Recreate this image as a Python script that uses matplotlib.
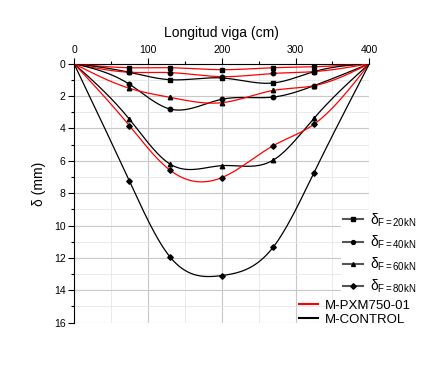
import numpy as np
import matplotlib
matplotlib.use("Agg")
import matplotlib.pyplot as plt
from matplotlib.lines import Line2D
from matplotlib.ticker import MultipleLocator

plt.rcParams["font.family"] = ["Liberation Sans", "DejaVu Sans"]
plt.rcParams["mathtext.fontset"] = "custom"
plt.rcParams["mathtext.rm"] = "Liberation Sans"
plt.rcParams["mathtext.it"] = "Liberation Sans"

# posiciones de medida (cm)
x_pos = [0, 75, 130, 200, 270, 325, 400]

# M-CONTROL (negro)
ctrl_20 = [0, 0.53, 0.99, 0.88, 1.19, 0.49, 0]
ctrl_40 = [0, 1.27, 2.80, 2.20, 2.06, 1.36, 0]
ctrl_60 = [0, 3.43, 6.20, 6.30, 5.95, 3.37, 0]
ctrl_80 = [0, 7.25, 11.94, 13.09, 11.32, 6.73, 0]

# M-PXM750-01 (rojo)
pxm_20 = [0, 0.25, 0.25, 0.37, 0.25, 0.19, 0]
pxm_40 = [0, 0.53, 0.55, 0.80, 0.60, 0.49, 0]
pxm_60 = [0, 1.52, 2.08, 2.41, 1.65, 1.36, 0]
pxm_80 = [0, 3.83, 6.58, 7.04, 5.06, 3.74, 0]

load_labels = [r"$\delta_{F=20kN}$", r"$\delta_{F=40kN}$",
               r"$\delta_{F=60kN}$", r"$\delta_{F=80kN}$"]
markers = ["s", "o", "^", "D"]


def spline(x, y, n=200):
    # spline cubica natural, solo para dibujar la curva suave
    x = np.asarray(x, float)
    y = np.asarray(y, float)
    k = len(x)
    h = np.diff(x)
    A = np.zeros((k, k))
    b = np.zeros(k)
    A[0, 0] = A[-1, -1] = 1
    for i in range(1, k - 1):
        A[i, i - 1] = h[i - 1]
        A[i, i] = 2 * (h[i - 1] + h[i])
        A[i, i + 1] = h[i]
        b[i] = 6 * ((y[i + 1] - y[i]) / h[i] - (y[i] - y[i - 1]) / h[i - 1])
    M = np.linalg.solve(A, b)
    xs = np.linspace(x[0], x[-1], n)
    idx = np.clip(np.searchsorted(x, xs) - 1, 0, k - 2)
    x0, x1 = x[idx], x[idx + 1]
    hh = x1 - x0
    t0, t1 = x1 - xs, xs - x0
    ys = (M[idx] * t0 ** 3 + M[idx + 1] * t1 ** 3) / (6 * hh) \
        + (y[idx] / hh - M[idx] * hh / 6) * t0 \
        + (y[idx + 1] / hh - M[idx + 1] * hh / 6) * t1
    return xs, ys


fig = plt.figure(figsize=(4.38, 3.65), dpi=100)
ax = fig.add_axes([0.169, 0.116, 0.6744, 0.7095])

series = [(ctrl_20, pxm_20), (ctrl_40, pxm_40),
          (ctrl_60, pxm_60), (ctrl_80, pxm_80)]
for (c, p), m in zip(series, markers):
    for vals, col in ((p, "red"), (c, "black")):
        xs, ys = spline(x_pos, vals)
        ax.plot(xs, ys, color=col, lw=0.9, zorder=3)
        ax.plot(x_pos[1:-1], vals[1:-1], ls="none", marker=m,
                ms=3.2 if m != "D" else 2.8, color="black", zorder=4)

ax.set_xlim(0, 400)
ax.set_ylim(16, 0)
ax.xaxis.tick_top()
ax.xaxis.set_label_position("top")
ax.set_xlabel("Longitud viga (cm)", fontsize=10, labelpad=6)
ax.set_ylabel(r"δ (mm)", fontsize=10)
ax.yaxis.set_label_coords(-0.095, 0.535)
ax.xaxis.set_major_locator(MultipleLocator(100))
ax.xaxis.set_minor_locator(MultipleLocator(50))
ax.yaxis.set_major_locator(MultipleLocator(2))
ax.yaxis.set_minor_locator(MultipleLocator(1))
ax.tick_params(which="major", length=4, width=0.8, labelsize=7.5, pad=2)
ax.tick_params(which="minor", length=2.5, width=0.8)
ax.grid(which="major", color="#c8c8c8", lw=0.8)
ax.grid(which="minor", color="#e6e6e6", lw=0.6)
ax.set_axisbelow(True)
for s in ("right", "bottom"):
    ax.spines[s].set_visible(False)

h1 = [Line2D([], [], color="#555555", lw=1.5, marker=m, ms=2.8,
             mfc="black", mec="black") for m in markers]
leg1 = ax.legend(h1, load_labels, loc="upper left",
                 bbox_to_anchor=(0.905, 0.436), frameon=True,
                 framealpha=1, edgecolor="none", fontsize=10,
                 handlelength=1.45, labelspacing=0.35, handletextpad=0.5,
                 borderpad=0.1, borderaxespad=0)
ax.add_artist(leg1)

h2 = [Line2D([], [], color="red", lw=1.5), Line2D([], [], color="black", lw=1.5)]
ax.legend(h2, ["M-PXM750-01", "M-CONTROL"], loc="upper left",
          bbox_to_anchor=(0.76, 0.088), frameon=False, fontsize=9.5,
          handlelength=1.5, labelspacing=0.1, handletextpad=0.5,
          borderpad=0, borderaxespad=0)

fig.savefig("out.png", dpi=100)
